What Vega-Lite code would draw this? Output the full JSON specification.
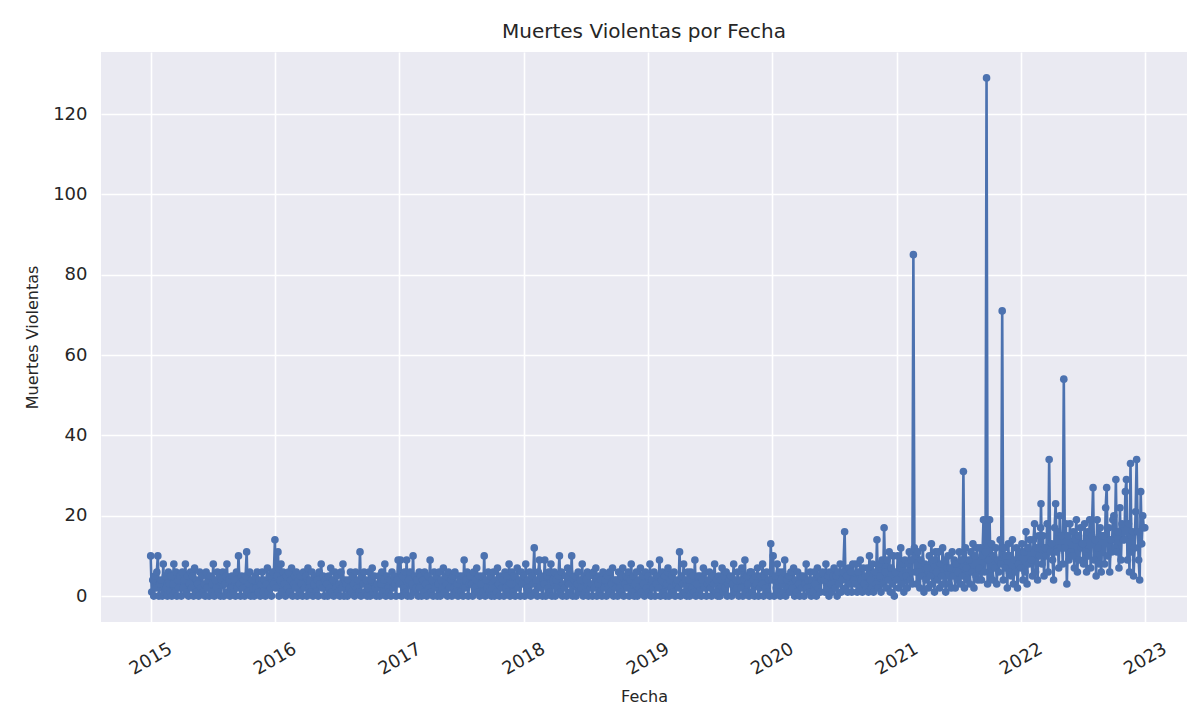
{
"$schema": "https://vega.github.io/schema/vega-lite/v6.json",
"autosize": {"type": "none"},
"padding": {"left": 101, "top": 52, "right": 0, "bottom": 90},
"width": 1086,
"height": 570,
"background": "white",
"title": {"text": "Muertes Violentas por Fecha", "font": "DejaVu Sans", "fontSize": 20, "fontWeight": "normal", "color": "#262626", "offset": 10},
"config": {
  "view": {"fill": "#EAEAF2", "stroke": null},
  "axis": {"domain": false, "ticks": false, "tickSize": 0, "grid": true, "gridColor": "white", "gridWidth": 1.6, "labelFont": "DejaVu Sans", "labelFontSize": 18, "labelColor": "#262626", "titleFont": "DejaVu Sans", "titleFontSize": 16, "titleFontWeight": "normal", "titleColor": "#262626"}
},
"data": {"values": [
{"fecha":"2015-01-01","muertes":10},{"fecha":"2015-01-04","muertes":1},{"fecha":"2015-01-07","muertes":4},{"fecha":"2015-01-10","muertes":0},{"fecha":"2015-01-13","muertes":5},{"fecha":"2015-01-16","muertes":2},{"fecha":"2015-01-19","muertes":6},{"fecha":"2015-01-22","muertes":10},{"fecha":"2015-01-25","muertes":0},{"fecha":"2015-01-28","muertes":3},
{"fecha":"2015-02-01","muertes":4},{"fecha":"2015-02-04","muertes":0},{"fecha":"2015-02-07","muertes":8},{"fecha":"2015-02-10","muertes":1},{"fecha":"2015-02-13","muertes":5},{"fecha":"2015-02-16","muertes":2},{"fecha":"2015-02-19","muertes":0},{"fecha":"2015-02-22","muertes":6},{"fecha":"2015-02-25","muertes":3},{"fecha":"2015-02-28","muertes":1},
{"fecha":"2015-03-01","muertes":5},{"fecha":"2015-03-04","muertes":0},{"fecha":"2015-03-07","muertes":3},{"fecha":"2015-03-10","muertes":8},{"fecha":"2015-03-13","muertes":1},{"fecha":"2015-03-16","muertes":6},{"fecha":"2015-03-19","muertes":0},{"fecha":"2015-03-22","muertes":4},{"fecha":"2015-03-25","muertes":2},{"fecha":"2015-03-28","muertes":5},
{"fecha":"2015-04-01","muertes":0},{"fecha":"2015-04-04","muertes":6},{"fecha":"2015-04-07","muertes":2},{"fecha":"2015-04-10","muertes":4},{"fecha":"2015-04-13","muertes":8},{"fecha":"2015-04-16","muertes":1},{"fecha":"2015-04-19","muertes":5},{"fecha":"2015-04-22","muertes":0},{"fecha":"2015-04-25","muertes":3},{"fecha":"2015-04-28","muertes":6},
{"fecha":"2015-05-01","muertes":2},{"fecha":"2015-05-04","muertes":5},{"fecha":"2015-05-07","muertes":0},{"fecha":"2015-05-10","muertes":7},{"fecha":"2015-05-13","muertes":1},{"fecha":"2015-05-16","muertes":4},{"fecha":"2015-05-19","muertes":3},{"fecha":"2015-05-22","muertes":0},{"fecha":"2015-05-25","muertes":6},{"fecha":"2015-05-28","muertes":2},
{"fecha":"2015-06-01","muertes":5},{"fecha":"2015-06-04","muertes":1},{"fecha":"2015-06-07","muertes":3},{"fecha":"2015-06-10","muertes":0},{"fecha":"2015-06-13","muertes":6},{"fecha":"2015-06-16","muertes":2},{"fecha":"2015-06-19","muertes":4},{"fecha":"2015-06-22","muertes":0},{"fecha":"2015-06-25","muertes":5},{"fecha":"2015-06-28","muertes":1},
{"fecha":"2015-07-01","muertes":3},{"fecha":"2015-07-04","muertes":8},{"fecha":"2015-07-07","muertes":0},{"fecha":"2015-07-10","muertes":4},{"fecha":"2015-07-13","muertes":2},{"fecha":"2015-07-16","muertes":6},{"fecha":"2015-07-19","muertes":1},{"fecha":"2015-07-22","muertes":5},{"fecha":"2015-07-25","muertes":0},{"fecha":"2015-07-28","muertes":4},
{"fecha":"2015-08-01","muertes":6},{"fecha":"2015-08-04","muertes":0},{"fecha":"2015-08-07","muertes":3},{"fecha":"2015-08-10","muertes":5},{"fecha":"2015-08-13","muertes":8},{"fecha":"2015-08-16","muertes":1},{"fecha":"2015-08-19","muertes":4},{"fecha":"2015-08-22","muertes":0},{"fecha":"2015-08-25","muertes":2},{"fecha":"2015-08-28","muertes":5},
{"fecha":"2015-09-01","muertes":1},{"fecha":"2015-09-04","muertes":4},{"fecha":"2015-09-07","muertes":0},{"fecha":"2015-09-10","muertes":6},{"fecha":"2015-09-13","muertes":2},{"fecha":"2015-09-16","muertes":10},{"fecha":"2015-09-19","muertes":3},{"fecha":"2015-09-22","muertes":0},{"fecha":"2015-09-25","muertes":5},{"fecha":"2015-09-28","muertes":2},
{"fecha":"2015-10-01","muertes":4},{"fecha":"2015-10-04","muertes":0},{"fecha":"2015-10-07","muertes":5},{"fecha":"2015-10-10","muertes":11},{"fecha":"2015-10-13","muertes":1},{"fecha":"2015-10-16","muertes":3},{"fecha":"2015-10-19","muertes":6},{"fecha":"2015-10-22","muertes":0},{"fecha":"2015-10-25","muertes":4},{"fecha":"2015-10-28","muertes":2},
{"fecha":"2015-11-01","muertes":0},{"fecha":"2015-11-04","muertes":5},{"fecha":"2015-11-07","muertes":2},{"fecha":"2015-11-10","muertes":6},{"fecha":"2015-11-13","muertes":1},{"fecha":"2015-11-16","muertes":4},{"fecha":"2015-11-19","muertes":0},{"fecha":"2015-11-22","muertes":3},{"fecha":"2015-11-25","muertes":6},{"fecha":"2015-11-28","muertes":1},
{"fecha":"2015-12-01","muertes":4},{"fecha":"2015-12-04","muertes":0},{"fecha":"2015-12-07","muertes":3},{"fecha":"2015-12-10","muertes":7},{"fecha":"2015-12-13","muertes":1},{"fecha":"2015-12-16","muertes":5},{"fecha":"2015-12-19","muertes":2},{"fecha":"2015-12-22","muertes":0},{"fecha":"2015-12-25","muertes":6},{"fecha":"2015-12-28","muertes":3},
{"fecha":"2016-01-01","muertes":14},{"fecha":"2016-01-04","muertes":2},{"fecha":"2016-01-07","muertes":5},{"fecha":"2016-01-10","muertes":11},{"fecha":"2016-01-13","muertes":0},{"fecha":"2016-01-16","muertes":4},{"fecha":"2016-01-19","muertes":8},{"fecha":"2016-01-22","muertes":1},{"fecha":"2016-01-25","muertes":6},{"fecha":"2016-01-28","muertes":3},
{"fecha":"2016-02-01","muertes":0},{"fecha":"2016-02-04","muertes":5},{"fecha":"2016-02-07","muertes":2},{"fecha":"2016-02-10","muertes":6},{"fecha":"2016-02-13","muertes":1},{"fecha":"2016-02-16","muertes":4},{"fecha":"2016-02-19","muertes":7},{"fecha":"2016-02-22","muertes":0},{"fecha":"2016-02-25","muertes":3},{"fecha":"2016-02-28","muertes":5},
{"fecha":"2016-03-01","muertes":2},{"fecha":"2016-03-04","muertes":6},{"fecha":"2016-03-07","muertes":0},{"fecha":"2016-03-10","muertes":4},{"fecha":"2016-03-13","muertes":1},{"fecha":"2016-03-16","muertes":5},{"fecha":"2016-03-19","muertes":3},{"fecha":"2016-03-22","muertes":0},{"fecha":"2016-03-25","muertes":6},{"fecha":"2016-03-28","muertes":2},
{"fecha":"2016-04-01","muertes":5},{"fecha":"2016-04-04","muertes":0},{"fecha":"2016-04-07","muertes":7},{"fecha":"2016-04-10","muertes":2},{"fecha":"2016-04-13","muertes":4},{"fecha":"2016-04-16","muertes":1},{"fecha":"2016-04-19","muertes":6},{"fecha":"2016-04-22","muertes":0},{"fecha":"2016-04-25","muertes":3},{"fecha":"2016-04-28","muertes":5},
{"fecha":"2016-05-01","muertes":1},{"fecha":"2016-05-04","muertes":4},{"fecha":"2016-05-07","muertes":0},{"fecha":"2016-05-10","muertes":6},{"fecha":"2016-05-13","muertes":3},{"fecha":"2016-05-16","muertes":8},{"fecha":"2016-05-19","muertes":2},{"fecha":"2016-05-22","muertes":5},{"fecha":"2016-05-25","muertes":0},{"fecha":"2016-05-28","muertes":4},
{"fecha":"2016-06-01","muertes":3},{"fecha":"2016-06-04","muertes":0},{"fecha":"2016-06-07","muertes":5},{"fecha":"2016-06-10","muertes":2},{"fecha":"2016-06-13","muertes":7},{"fecha":"2016-06-16","muertes":1},{"fecha":"2016-06-19","muertes":4},{"fecha":"2016-06-22","muertes":0},{"fecha":"2016-06-25","muertes":6},{"fecha":"2016-06-28","muertes":2},
{"fecha":"2016-07-01","muertes":5},{"fecha":"2016-07-04","muertes":1},{"fecha":"2016-07-07","muertes":3},{"fecha":"2016-07-10","muertes":0},{"fecha":"2016-07-13","muertes":6},{"fecha":"2016-07-16","muertes":2},{"fecha":"2016-07-19","muertes":8},{"fecha":"2016-07-22","muertes":0},{"fecha":"2016-07-25","muertes":4},{"fecha":"2016-07-28","muertes":3},
{"fecha":"2016-08-01","muertes":0},{"fecha":"2016-08-04","muertes":4},{"fecha":"2016-08-07","muertes":2},{"fecha":"2016-08-10","muertes":6},{"fecha":"2016-08-13","muertes":1},{"fecha":"2016-08-16","muertes":5},{"fecha":"2016-08-19","muertes":3},{"fecha":"2016-08-22","muertes":0},{"fecha":"2016-08-25","muertes":6},{"fecha":"2016-08-28","muertes":2},
{"fecha":"2016-09-01","muertes":4},{"fecha":"2016-09-04","muertes":1},{"fecha":"2016-09-07","muertes":11},{"fecha":"2016-09-10","muertes":0},{"fecha":"2016-09-13","muertes":5},{"fecha":"2016-09-16","muertes":3},{"fecha":"2016-09-19","muertes":6},{"fecha":"2016-09-22","muertes":1},{"fecha":"2016-09-25","muertes":4},{"fecha":"2016-09-28","muertes":0},
{"fecha":"2016-10-01","muertes":2},{"fecha":"2016-10-04","muertes":6},{"fecha":"2016-10-07","muertes":0},{"fecha":"2016-10-10","muertes":4},{"fecha":"2016-10-13","muertes":7},{"fecha":"2016-10-16","muertes":1},{"fecha":"2016-10-19","muertes":5},{"fecha":"2016-10-22","muertes":2},{"fecha":"2016-10-25","muertes":0},{"fecha":"2016-10-28","muertes":3},
{"fecha":"2016-11-01","muertes":5},{"fecha":"2016-11-04","muertes":0},{"fecha":"2016-11-07","muertes":3},{"fecha":"2016-11-10","muertes":6},{"fecha":"2016-11-13","muertes":1},{"fecha":"2016-11-16","muertes":4},{"fecha":"2016-11-19","muertes":8},{"fecha":"2016-11-22","muertes":0},{"fecha":"2016-11-25","muertes":5},{"fecha":"2016-11-28","muertes":2},
{"fecha":"2016-12-01","muertes":1},{"fecha":"2016-12-04","muertes":4},{"fecha":"2016-12-07","muertes":0},{"fecha":"2016-12-10","muertes":6},{"fecha":"2016-12-13","muertes":2},{"fecha":"2016-12-16","muertes":5},{"fecha":"2016-12-19","muertes":3},{"fecha":"2016-12-22","muertes":0},{"fecha":"2016-12-25","muertes":4},{"fecha":"2016-12-28","muertes":9},
{"fecha":"2017-01-01","muertes":3},{"fecha":"2017-01-04","muertes":9},{"fecha":"2017-01-07","muertes":0},{"fecha":"2017-01-10","muertes":5},{"fecha":"2017-01-13","muertes":2},{"fecha":"2017-01-16","muertes":6},{"fecha":"2017-01-19","muertes":1},{"fecha":"2017-01-22","muertes":9},{"fecha":"2017-01-25","muertes":0},{"fecha":"2017-01-28","muertes":4},
{"fecha":"2017-02-01","muertes":6},{"fecha":"2017-02-04","muertes":0},{"fecha":"2017-02-07","muertes":3},{"fecha":"2017-02-10","muertes":10},{"fecha":"2017-02-13","muertes":1},{"fecha":"2017-02-16","muertes":5},{"fecha":"2017-02-19","muertes":2},{"fecha":"2017-02-22","muertes":4},{"fecha":"2017-02-25","muertes":0},{"fecha":"2017-02-28","muertes":6},
{"fecha":"2017-03-01","muertes":2},{"fecha":"2017-03-04","muertes":5},{"fecha":"2017-03-07","muertes":0},{"fecha":"2017-03-10","muertes":4},{"fecha":"2017-03-13","muertes":1},{"fecha":"2017-03-16","muertes":6},{"fecha":"2017-03-19","muertes":3},{"fecha":"2017-03-22","muertes":0},{"fecha":"2017-03-25","muertes":5},{"fecha":"2017-03-28","muertes":2},
{"fecha":"2017-04-01","muertes":9},{"fecha":"2017-04-04","muertes":1},{"fecha":"2017-04-07","muertes":4},{"fecha":"2017-04-10","muertes":0},{"fecha":"2017-04-13","muertes":6},{"fecha":"2017-04-16","muertes":2},{"fecha":"2017-04-19","muertes":5},{"fecha":"2017-04-22","muertes":0},{"fecha":"2017-04-25","muertes":3},{"fecha":"2017-04-28","muertes":6},
{"fecha":"2017-05-01","muertes":0},{"fecha":"2017-05-04","muertes":4},{"fecha":"2017-05-07","muertes":2},{"fecha":"2017-05-10","muertes":7},{"fecha":"2017-05-13","muertes":1},{"fecha":"2017-05-16","muertes":5},{"fecha":"2017-05-19","muertes":3},{"fecha":"2017-05-22","muertes":0},{"fecha":"2017-05-25","muertes":6},{"fecha":"2017-05-28","muertes":2},
{"fecha":"2017-06-01","muertes":4},{"fecha":"2017-06-04","muertes":0},{"fecha":"2017-06-07","muertes":5},{"fecha":"2017-06-10","muertes":2},{"fecha":"2017-06-13","muertes":6},{"fecha":"2017-06-16","muertes":1},{"fecha":"2017-06-19","muertes":3},{"fecha":"2017-06-22","muertes":0},{"fecha":"2017-06-25","muertes":5},{"fecha":"2017-06-28","muertes":4},
{"fecha":"2017-07-01","muertes":1},{"fecha":"2017-07-04","muertes":5},{"fecha":"2017-07-07","muertes":0},{"fecha":"2017-07-10","muertes":9},{"fecha":"2017-07-13","muertes":2},{"fecha":"2017-07-16","muertes":4},{"fecha":"2017-07-19","muertes":6},{"fecha":"2017-07-22","muertes":0},{"fecha":"2017-07-25","muertes":3},{"fecha":"2017-07-28","muertes":5},
{"fecha":"2017-08-01","muertes":3},{"fecha":"2017-08-04","muertes":0},{"fecha":"2017-08-07","muertes":6},{"fecha":"2017-08-10","muertes":2},{"fecha":"2017-08-13","muertes":4},{"fecha":"2017-08-16","muertes":7},{"fecha":"2017-08-19","muertes":1},{"fecha":"2017-08-22","muertes":5},{"fecha":"2017-08-25","muertes":0},{"fecha":"2017-08-28","muertes":3},
{"fecha":"2017-09-01","muertes":5},{"fecha":"2017-09-04","muertes":1},{"fecha":"2017-09-07","muertes":10},{"fecha":"2017-09-10","muertes":0},{"fecha":"2017-09-13","muertes":4},{"fecha":"2017-09-16","muertes":2},{"fecha":"2017-09-19","muertes":6},{"fecha":"2017-09-22","muertes":1},{"fecha":"2017-09-25","muertes":5},{"fecha":"2017-09-28","muertes":0},
{"fecha":"2017-10-01","muertes":2},{"fecha":"2017-10-04","muertes":6},{"fecha":"2017-10-07","muertes":0},{"fecha":"2017-10-10","muertes":4},{"fecha":"2017-10-13","muertes":1},{"fecha":"2017-10-16","muertes":7},{"fecha":"2017-10-19","muertes":3},{"fecha":"2017-10-22","muertes":0},{"fecha":"2017-10-25","muertes":5},{"fecha":"2017-10-28","muertes":2},
{"fecha":"2017-11-01","muertes":4},{"fecha":"2017-11-04","muertes":0},{"fecha":"2017-11-07","muertes":6},{"fecha":"2017-11-10","muertes":2},{"fecha":"2017-11-13","muertes":5},{"fecha":"2017-11-16","muertes":1},{"fecha":"2017-11-19","muertes":8},{"fecha":"2017-11-22","muertes":0},{"fecha":"2017-11-25","muertes":3},{"fecha":"2017-11-28","muertes":6},
{"fecha":"2017-12-01","muertes":1},{"fecha":"2017-12-04","muertes":5},{"fecha":"2017-12-07","muertes":0},{"fecha":"2017-12-10","muertes":3},{"fecha":"2017-12-13","muertes":7},{"fecha":"2017-12-16","muertes":2},{"fecha":"2017-12-19","muertes":4},{"fecha":"2017-12-22","muertes":0},{"fecha":"2017-12-25","muertes":6},{"fecha":"2017-12-28","muertes":3},
{"fecha":"2018-01-01","muertes":5},{"fecha":"2018-01-04","muertes":0},{"fecha":"2018-01-07","muertes":8},{"fecha":"2018-01-10","muertes":2},{"fecha":"2018-01-13","muertes":4},{"fecha":"2018-01-16","muertes":1},{"fecha":"2018-01-19","muertes":6},{"fecha":"2018-01-22","muertes":0},{"fecha":"2018-01-25","muertes":5},{"fecha":"2018-01-28","muertes":3},
{"fecha":"2018-02-01","muertes":12},{"fecha":"2018-02-04","muertes":1},{"fecha":"2018-02-07","muertes":4},{"fecha":"2018-02-10","muertes":0},{"fecha":"2018-02-13","muertes":6},{"fecha":"2018-02-16","muertes":9},{"fecha":"2018-02-19","muertes":2},{"fecha":"2018-02-22","muertes":5},{"fecha":"2018-02-25","muertes":0},{"fecha":"2018-02-28","muertes":4},
{"fecha":"2018-03-01","muertes":3},{"fecha":"2018-03-04","muertes":9},{"fecha":"2018-03-07","muertes":0},{"fecha":"2018-03-10","muertes":5},{"fecha":"2018-03-13","muertes":2},{"fecha":"2018-03-16","muertes":6},{"fecha":"2018-03-19","muertes":1},{"fecha":"2018-03-22","muertes":8},{"fecha":"2018-03-25","muertes":0},{"fecha":"2018-03-28","muertes":4},
{"fecha":"2018-04-01","muertes":6},{"fecha":"2018-04-04","muertes":0},{"fecha":"2018-04-07","muertes":4},{"fecha":"2018-04-10","muertes":2},{"fecha":"2018-04-13","muertes":5},{"fecha":"2018-04-16","muertes":10},{"fecha":"2018-04-19","muertes":1},{"fecha":"2018-04-22","muertes":6},{"fecha":"2018-04-25","muertes":0},{"fecha":"2018-04-28","muertes":3},
{"fecha":"2018-05-01","muertes":2},{"fecha":"2018-05-04","muertes":5},{"fecha":"2018-05-07","muertes":0},{"fecha":"2018-05-10","muertes":7},{"fecha":"2018-05-13","muertes":3},{"fecha":"2018-05-16","muertes":6},{"fecha":"2018-05-19","muertes":1},{"fecha":"2018-05-22","muertes":10},{"fecha":"2018-05-25","muertes":0},{"fecha":"2018-05-28","muertes":4},
{"fecha":"2018-06-01","muertes":5},{"fecha":"2018-06-04","muertes":0},{"fecha":"2018-06-07","muertes":3},{"fecha":"2018-06-10","muertes":6},{"fecha":"2018-06-13","muertes":1},{"fecha":"2018-06-16","muertes":4},{"fecha":"2018-06-19","muertes":2},{"fecha":"2018-06-22","muertes":8},{"fecha":"2018-06-25","muertes":0},{"fecha":"2018-06-28","muertes":5},
{"fecha":"2018-07-01","muertes":1},{"fecha":"2018-07-04","muertes":4},{"fecha":"2018-07-07","muertes":6},{"fecha":"2018-07-10","muertes":0},{"fecha":"2018-07-13","muertes":5},{"fecha":"2018-07-16","muertes":2},{"fecha":"2018-07-19","muertes":3},{"fecha":"2018-07-22","muertes":0},{"fecha":"2018-07-25","muertes":6},{"fecha":"2018-07-28","muertes":2},
{"fecha":"2018-08-01","muertes":7},{"fecha":"2018-08-04","muertes":0},{"fecha":"2018-08-07","muertes":3},{"fecha":"2018-08-10","muertes":5},{"fecha":"2018-08-13","muertes":1},{"fecha":"2018-08-16","muertes":4},{"fecha":"2018-08-19","muertes":0},{"fecha":"2018-08-22","muertes":6},{"fecha":"2018-08-25","muertes":2},{"fecha":"2018-08-28","muertes":4},
{"fecha":"2018-09-01","muertes":0},{"fecha":"2018-09-04","muertes":5},{"fecha":"2018-09-07","muertes":2},{"fecha":"2018-09-10","muertes":6},{"fecha":"2018-09-13","muertes":1},{"fecha":"2018-09-16","muertes":3},{"fecha":"2018-09-19","muertes":7},{"fecha":"2018-09-22","muertes":0},{"fecha":"2018-09-25","muertes":4},{"fecha":"2018-09-28","muertes":2},
{"fecha":"2018-10-01","muertes":4},{"fecha":"2018-10-04","muertes":0},{"fecha":"2018-10-07","muertes":6},{"fecha":"2018-10-10","muertes":2},{"fecha":"2018-10-13","muertes":5},{"fecha":"2018-10-16","muertes":1},{"fecha":"2018-10-19","muertes":7},{"fecha":"2018-10-22","muertes":0},{"fecha":"2018-10-25","muertes":3},{"fecha":"2018-10-28","muertes":5},
{"fecha":"2018-11-01","muertes":2},{"fecha":"2018-11-04","muertes":6},{"fecha":"2018-11-07","muertes":0},{"fecha":"2018-11-10","muertes":4},{"fecha":"2018-11-13","muertes":8},{"fecha":"2018-11-16","muertes":1},{"fecha":"2018-11-19","muertes":5},{"fecha":"2018-11-22","muertes":0},{"fecha":"2018-11-25","muertes":3},{"fecha":"2018-11-28","muertes":6},
{"fecha":"2018-12-01","muertes":0},{"fecha":"2018-12-04","muertes":4},{"fecha":"2018-12-07","muertes":2},{"fecha":"2018-12-10","muertes":7},{"fecha":"2018-12-13","muertes":1},{"fecha":"2018-12-16","muertes":5},{"fecha":"2018-12-19","muertes":3},{"fecha":"2018-12-22","muertes":0},{"fecha":"2018-12-25","muertes":6},{"fecha":"2018-12-28","muertes":2},
{"fecha":"2019-01-01","muertes":5},{"fecha":"2019-01-04","muertes":1},{"fecha":"2019-01-07","muertes":8},{"fecha":"2019-01-10","muertes":0},{"fecha":"2019-01-13","muertes":4},{"fecha":"2019-01-16","muertes":2},{"fecha":"2019-01-19","muertes":6},{"fecha":"2019-01-22","muertes":0},{"fecha":"2019-01-25","muertes":3},{"fecha":"2019-01-28","muertes":5},
{"fecha":"2019-02-01","muertes":2},{"fecha":"2019-02-04","muertes":9},{"fecha":"2019-02-07","muertes":0},{"fecha":"2019-02-10","muertes":4},{"fecha":"2019-02-13","muertes":6},{"fecha":"2019-02-16","muertes":1},{"fecha":"2019-02-19","muertes":5},{"fecha":"2019-02-22","muertes":0},{"fecha":"2019-02-25","muertes":3},{"fecha":"2019-02-28","muertes":6},
{"fecha":"2019-03-01","muertes":7},{"fecha":"2019-03-04","muertes":0},{"fecha":"2019-03-07","muertes":4},{"fecha":"2019-03-10","muertes":2},{"fecha":"2019-03-13","muertes":5},{"fecha":"2019-03-16","muertes":1},{"fecha":"2019-03-19","muertes":6},{"fecha":"2019-03-22","muertes":0},{"fecha":"2019-03-25","muertes":3},{"fecha":"2019-03-28","muertes":4},
{"fecha":"2019-04-01","muertes":2},{"fecha":"2019-04-04","muertes":11},{"fecha":"2019-04-07","muertes":0},{"fecha":"2019-04-10","muertes":5},{"fecha":"2019-04-13","muertes":3},{"fecha":"2019-04-16","muertes":8},{"fecha":"2019-04-19","muertes":1},{"fecha":"2019-04-22","muertes":4},{"fecha":"2019-04-25","muertes":0},{"fecha":"2019-04-28","muertes":6},
{"fecha":"2019-05-01","muertes":4},{"fecha":"2019-05-04","muertes":0},{"fecha":"2019-05-07","muertes":6},{"fecha":"2019-05-10","muertes":2},{"fecha":"2019-05-13","muertes":5},{"fecha":"2019-05-16","muertes":1},{"fecha":"2019-05-19","muertes":9},{"fecha":"2019-05-22","muertes":0},{"fecha":"2019-05-25","muertes":3},{"fecha":"2019-05-28","muertes":5},
{"fecha":"2019-06-01","muertes":1},{"fecha":"2019-06-04","muertes":5},{"fecha":"2019-06-07","muertes":0},{"fecha":"2019-06-10","muertes":4},{"fecha":"2019-06-13","muertes":7},{"fecha":"2019-06-16","muertes":2},{"fecha":"2019-06-19","muertes":6},{"fecha":"2019-06-22","muertes":0},{"fecha":"2019-06-25","muertes":3},{"fecha":"2019-06-28","muertes":4},
{"fecha":"2019-07-01","muertes":6},{"fecha":"2019-07-04","muertes":2},{"fecha":"2019-07-07","muertes":0},{"fecha":"2019-07-10","muertes":5},{"fecha":"2019-07-13","muertes":3},{"fecha":"2019-07-16","muertes":8},{"fecha":"2019-07-19","muertes":1},{"fecha":"2019-07-22","muertes":4},{"fecha":"2019-07-25","muertes":0},{"fecha":"2019-07-28","muertes":5},
{"fecha":"2019-08-01","muertes":0},{"fecha":"2019-08-04","muertes":4},{"fecha":"2019-08-07","muertes":7},{"fecha":"2019-08-10","muertes":1},{"fecha":"2019-08-13","muertes":5},{"fecha":"2019-08-16","muertes":2},{"fecha":"2019-08-19","muertes":6},{"fecha":"2019-08-22","muertes":0},{"fecha":"2019-08-25","muertes":3},{"fecha":"2019-08-28","muertes":4},
{"fecha":"2019-09-01","muertes":5},{"fecha":"2019-09-04","muertes":0},{"fecha":"2019-09-07","muertes":3},{"fecha":"2019-09-10","muertes":8},{"fecha":"2019-09-13","muertes":1},{"fecha":"2019-09-16","muertes":4},{"fecha":"2019-09-19","muertes":2},{"fecha":"2019-09-22","muertes":6},{"fecha":"2019-09-25","muertes":0},{"fecha":"2019-09-28","muertes":4},
{"fecha":"2019-10-01","muertes":2},{"fecha":"2019-10-04","muertes":7},{"fecha":"2019-10-07","muertes":0},{"fecha":"2019-10-10","muertes":4},{"fecha":"2019-10-13","muertes":9},{"fecha":"2019-10-16","muertes":1},{"fecha":"2019-10-19","muertes":5},{"fecha":"2019-10-22","muertes":3},{"fecha":"2019-10-25","muertes":0},{"fecha":"2019-10-28","muertes":6},
{"fecha":"2019-11-01","muertes":6},{"fecha":"2019-11-04","muertes":1},{"fecha":"2019-11-07","muertes":4},{"fecha":"2019-11-10","muertes":0},{"fecha":"2019-11-13","muertes":5},{"fecha":"2019-11-16","muertes":3},{"fecha":"2019-11-19","muertes":7},{"fecha":"2019-11-22","muertes":0},{"fecha":"2019-11-25","muertes":2},{"fecha":"2019-11-28","muertes":5},
{"fecha":"2019-12-01","muertes":3},{"fecha":"2019-12-04","muertes":8},{"fecha":"2019-12-07","muertes":0},{"fecha":"2019-12-10","muertes":5},{"fecha":"2019-12-13","muertes":2},{"fecha":"2019-12-16","muertes":6},{"fecha":"2019-12-19","muertes":1},{"fecha":"2019-12-22","muertes":4},{"fecha":"2019-12-25","muertes":0},{"fecha":"2019-12-28","muertes":13},
{"fecha":"2020-01-01","muertes":4},{"fecha":"2020-01-04","muertes":10},{"fecha":"2020-01-07","muertes":0},{"fecha":"2020-01-10","muertes":5},{"fecha":"2020-01-13","muertes":2},{"fecha":"2020-01-16","muertes":8},{"fecha":"2020-01-19","muertes":1},{"fecha":"2020-01-22","muertes":6},{"fecha":"2020-01-25","muertes":0},{"fecha":"2020-01-28","muertes":4},
{"fecha":"2020-02-01","muertes":6},{"fecha":"2020-02-04","muertes":1},{"fecha":"2020-02-07","muertes":9},{"fecha":"2020-02-10","muertes":0},{"fecha":"2020-02-13","muertes":4},{"fecha":"2020-02-16","muertes":2},{"fecha":"2020-02-19","muertes":5},{"fecha":"2020-02-22","muertes":1},{"fecha":"2020-02-25","muertes":6},{"fecha":"2020-02-28","muertes":3},
{"fecha":"2020-03-01","muertes":2},{"fecha":"2020-03-04","muertes":7},{"fecha":"2020-03-07","muertes":0},{"fecha":"2020-03-10","muertes":4},{"fecha":"2020-03-13","muertes":1},{"fecha":"2020-03-16","muertes":6},{"fecha":"2020-03-19","muertes":3},{"fecha":"2020-03-22","muertes":0},{"fecha":"2020-03-25","muertes":5},{"fecha":"2020-03-28","muertes":2},
{"fecha":"2020-04-01","muertes":5},{"fecha":"2020-04-04","muertes":0},{"fecha":"2020-04-07","muertes":3},{"fecha":"2020-04-10","muertes":8},{"fecha":"2020-04-13","muertes":2},{"fecha":"2020-04-16","muertes":4},{"fecha":"2020-04-19","muertes":1},{"fecha":"2020-04-22","muertes":6},{"fecha":"2020-04-25","muertes":0},{"fecha":"2020-04-28","muertes":4},
{"fecha":"2020-05-01","muertes":1},{"fecha":"2020-05-04","muertes":6},{"fecha":"2020-05-07","muertes":3},{"fecha":"2020-05-10","muertes":0},{"fecha":"2020-05-13","muertes":7},{"fecha":"2020-05-16","muertes":2},{"fecha":"2020-05-19","muertes":5},{"fecha":"2020-05-22","muertes":1},{"fecha":"2020-05-25","muertes":4},{"fecha":"2020-05-28","muertes":6},
{"fecha":"2020-06-01","muertes":4},{"fecha":"2020-06-04","muertes":1},{"fecha":"2020-06-07","muertes":8},{"fecha":"2020-06-10","muertes":2},{"fecha":"2020-06-13","muertes":5},{"fecha":"2020-06-16","muertes":0},{"fecha":"2020-06-19","muertes":6},{"fecha":"2020-06-22","muertes":3},{"fecha":"2020-06-25","muertes":1},{"fecha":"2020-06-28","muertes":5},
{"fecha":"2020-07-01","muertes":7},{"fecha":"2020-07-04","muertes":2},{"fecha":"2020-07-07","muertes":5},{"fecha":"2020-07-10","muertes":0},{"fecha":"2020-07-13","muertes":6},{"fecha":"2020-07-16","muertes":3},{"fecha":"2020-07-19","muertes":8},{"fecha":"2020-07-22","muertes":1},{"fecha":"2020-07-25","muertes":4},{"fecha":"2020-07-28","muertes":6},
{"fecha":"2020-08-01","muertes":16},{"fecha":"2020-08-04","muertes":2},{"fecha":"2020-08-07","muertes":5},{"fecha":"2020-08-10","muertes":1},{"fecha":"2020-08-13","muertes":7},{"fecha":"2020-08-16","muertes":3},{"fecha":"2020-08-19","muertes":6},{"fecha":"2020-08-22","muertes":1},{"fecha":"2020-08-25","muertes":8},{"fecha":"2020-08-28","muertes":4},
{"fecha":"2020-09-01","muertes":3},{"fecha":"2020-09-04","muertes":8},{"fecha":"2020-09-07","muertes":1},{"fecha":"2020-09-10","muertes":6},{"fecha":"2020-09-13","muertes":2},{"fecha":"2020-09-16","muertes":9},{"fecha":"2020-09-19","muertes":4},{"fecha":"2020-09-22","muertes":1},{"fecha":"2020-09-25","muertes":7},{"fecha":"2020-09-28","muertes":3},
{"fecha":"2020-10-01","muertes":5},{"fecha":"2020-10-04","muertes":2},{"fecha":"2020-10-07","muertes":7},{"fecha":"2020-10-10","muertes":1},{"fecha":"2020-10-13","muertes":10},{"fecha":"2020-10-16","muertes":4},{"fecha":"2020-10-19","muertes":2},{"fecha":"2020-10-22","muertes":8},{"fecha":"2020-10-25","muertes":1},{"fecha":"2020-10-28","muertes":6},
{"fecha":"2020-11-01","muertes":3},{"fecha":"2020-11-04","muertes":14},{"fecha":"2020-11-07","muertes":2},{"fecha":"2020-11-10","muertes":8},{"fecha":"2020-11-13","muertes":5},{"fecha":"2020-11-16","muertes":1},{"fecha":"2020-11-19","muertes":9},{"fecha":"2020-11-22","muertes":3},{"fecha":"2020-11-25","muertes":17},{"fecha":"2020-11-28","muertes":6},
{"fecha":"2020-12-01","muertes":2},{"fecha":"2020-12-04","muertes":9},{"fecha":"2020-12-07","muertes":4},{"fecha":"2020-12-10","muertes":11},{"fecha":"2020-12-13","muertes":1},{"fecha":"2020-12-16","muertes":7},{"fecha":"2020-12-19","muertes":3},{"fecha":"2020-12-22","muertes":10},{"fecha":"2020-12-25","muertes":0},{"fecha":"2020-12-28","muertes":6},
{"fecha":"2021-01-01","muertes":4},{"fecha":"2021-01-04","muertes":10},{"fecha":"2021-01-07","muertes":2},{"fecha":"2021-01-10","muertes":7},{"fecha":"2021-01-13","muertes":12},{"fecha":"2021-01-16","muertes":3},{"fecha":"2021-01-19","muertes":8},{"fecha":"2021-01-22","muertes":1},{"fecha":"2021-01-25","muertes":9},{"fecha":"2021-01-28","muertes":5},
{"fecha":"2021-02-01","muertes":2},{"fecha":"2021-02-04","muertes":8},{"fecha":"2021-02-07","muertes":11},{"fecha":"2021-02-10","muertes":4},{"fecha":"2021-02-13","muertes":9},{"fecha":"2021-02-16","muertes":3},{"fecha":"2021-02-19","muertes":85},{"fecha":"2021-02-22","muertes":12},{"fecha":"2021-02-25","muertes":6},{"fecha":"2021-02-28","muertes":10},
{"fecha":"2021-03-01","muertes":3},{"fecha":"2021-03-04","muertes":11},{"fecha":"2021-03-07","muertes":6},{"fecha":"2021-03-10","muertes":2},{"fecha":"2021-03-13","muertes":9},{"fecha":"2021-03-16","muertes":5},{"fecha":"2021-03-19","muertes":12},{"fecha":"2021-03-22","muertes":1},{"fecha":"2021-03-25","muertes":8},{"fecha":"2021-03-28","muertes":4},
{"fecha":"2021-04-01","muertes":7},{"fecha":"2021-04-04","muertes":2},{"fecha":"2021-04-07","muertes":10},{"fecha":"2021-04-10","muertes":5},{"fecha":"2021-04-13","muertes":13},{"fecha":"2021-04-16","muertes":3},{"fecha":"2021-04-19","muertes":9},{"fecha":"2021-04-22","muertes":1},{"fecha":"2021-04-25","muertes":11},{"fecha":"2021-04-28","muertes":6},
{"fecha":"2021-05-01","muertes":4},{"fecha":"2021-05-04","muertes":11},{"fecha":"2021-05-07","muertes":2},{"fecha":"2021-05-10","muertes":8},{"fecha":"2021-05-13","muertes":5},{"fecha":"2021-05-16","muertes":12},{"fecha":"2021-05-19","muertes":3},{"fecha":"2021-05-22","muertes":9},{"fecha":"2021-05-25","muertes":1},{"fecha":"2021-05-28","muertes":7},
{"fecha":"2021-06-01","muertes":10},{"fecha":"2021-06-04","muertes":3},{"fecha":"2021-06-07","muertes":7},{"fecha":"2021-06-10","muertes":2},{"fecha":"2021-06-13","muertes":11},{"fecha":"2021-06-16","muertes":5},{"fecha":"2021-06-19","muertes":9},{"fecha":"2021-06-22","muertes":2},{"fecha":"2021-06-25","muertes":8},{"fecha":"2021-06-28","muertes":4},
{"fecha":"2021-07-01","muertes":6},{"fecha":"2021-07-04","muertes":11},{"fecha":"2021-07-07","muertes":3},{"fecha":"2021-07-10","muertes":9},{"fecha":"2021-07-13","muertes":5},{"fecha":"2021-07-16","muertes":31},{"fecha":"2021-07-19","muertes":2},{"fecha":"2021-07-22","muertes":12},{"fecha":"2021-07-25","muertes":7},{"fecha":"2021-07-28","muertes":4},
{"fecha":"2021-08-01","muertes":9},{"fecha":"2021-08-04","muertes":3},{"fecha":"2021-08-07","muertes":11},{"fecha":"2021-08-10","muertes":6},{"fecha":"2021-08-13","muertes":13},{"fecha":"2021-08-16","muertes":2},{"fecha":"2021-08-19","muertes":10},{"fecha":"2021-08-22","muertes":5},{"fecha":"2021-08-25","muertes":12},{"fecha":"2021-08-28","muertes":4},
{"fecha":"2021-09-01","muertes":7},{"fecha":"2021-09-04","muertes":12},{"fecha":"2021-09-07","muertes":4},{"fecha":"2021-09-10","muertes":10},{"fecha":"2021-09-13","muertes":19},{"fecha":"2021-09-16","muertes":6},{"fecha":"2021-09-19","muertes":11},{"fecha":"2021-09-22","muertes":129},{"fecha":"2021-09-25","muertes":3},{"fecha":"2021-09-28","muertes":9},
{"fecha":"2021-10-01","muertes":19},{"fecha":"2021-10-04","muertes":5},{"fecha":"2021-10-07","muertes":13},{"fecha":"2021-10-10","muertes":4},{"fecha":"2021-10-13","muertes":10},{"fecha":"2021-10-16","muertes":7},{"fecha":"2021-10-19","muertes":12},{"fecha":"2021-10-22","muertes":3},{"fecha":"2021-10-25","muertes":9},{"fecha":"2021-10-28","muertes":6},
{"fecha":"2021-11-01","muertes":14},{"fecha":"2021-11-04","muertes":8},{"fecha":"2021-11-07","muertes":71},{"fecha":"2021-11-10","muertes":4},{"fecha":"2021-11-13","muertes":12},{"fecha":"2021-11-16","muertes":7},{"fecha":"2021-11-19","muertes":10},{"fecha":"2021-11-22","muertes":2},{"fecha":"2021-11-25","muertes":13},{"fecha":"2021-11-28","muertes":6},
{"fecha":"2021-12-01","muertes":10},{"fecha":"2021-12-04","muertes":5},{"fecha":"2021-12-07","muertes":14},{"fecha":"2021-12-10","muertes":3},{"fecha":"2021-12-13","muertes":9},{"fecha":"2021-12-16","muertes":6},{"fecha":"2021-12-19","muertes":12},{"fecha":"2021-12-22","muertes":2},{"fecha":"2021-12-25","muertes":8},{"fecha":"2021-12-28","muertes":11},
{"fecha":"2022-01-01","muertes":7},{"fecha":"2022-01-04","muertes":13},{"fecha":"2022-01-07","muertes":4},{"fecha":"2022-01-10","muertes":11},{"fecha":"2022-01-13","muertes":6},{"fecha":"2022-01-16","muertes":16},{"fecha":"2022-01-19","muertes":3},{"fecha":"2022-01-22","muertes":12},{"fecha":"2022-01-25","muertes":8},{"fecha":"2022-01-28","muertes":14},
{"fecha":"2022-02-01","muertes":9},{"fecha":"2022-02-04","muertes":5},{"fecha":"2022-02-07","muertes":14},{"fecha":"2022-02-10","muertes":18},{"fecha":"2022-02-13","muertes":6},{"fecha":"2022-02-16","muertes":12},{"fecha":"2022-02-19","muertes":4},{"fecha":"2022-02-22","muertes":15},{"fecha":"2022-02-25","muertes":10},{"fecha":"2022-02-28","muertes":17},
{"fecha":"2022-03-01","muertes":23},{"fecha":"2022-03-04","muertes":8},{"fecha":"2022-03-07","muertes":15},{"fecha":"2022-03-10","muertes":5},{"fecha":"2022-03-13","muertes":12},{"fecha":"2022-03-16","muertes":10},{"fecha":"2022-03-19","muertes":18},{"fecha":"2022-03-22","muertes":6},{"fecha":"2022-03-25","muertes":34},{"fecha":"2022-03-28","muertes":11},
{"fecha":"2022-04-01","muertes":13},{"fecha":"2022-04-04","muertes":9},{"fecha":"2022-04-07","muertes":4},{"fecha":"2022-04-10","muertes":17},{"fecha":"2022-04-13","muertes":23},{"fecha":"2022-04-16","muertes":11},{"fecha":"2022-04-19","muertes":16},{"fecha":"2022-04-22","muertes":7},{"fecha":"2022-04-25","muertes":20},{"fecha":"2022-04-28","muertes":12},
{"fecha":"2022-05-01","muertes":15},{"fecha":"2022-05-04","muertes":8},{"fecha":"2022-05-07","muertes":54},{"fecha":"2022-05-10","muertes":12},{"fecha":"2022-05-13","muertes":18},{"fecha":"2022-05-16","muertes":3},{"fecha":"2022-05-19","muertes":15},{"fecha":"2022-05-22","muertes":9},{"fecha":"2022-05-25","muertes":18},{"fecha":"2022-05-28","muertes":11},
{"fecha":"2022-06-01","muertes":10},{"fecha":"2022-06-04","muertes":16},{"fecha":"2022-06-07","muertes":7},{"fecha":"2022-06-10","muertes":14},{"fecha":"2022-06-13","muertes":19},{"fecha":"2022-06-16","muertes":6},{"fecha":"2022-06-19","muertes":15},{"fecha":"2022-06-22","muertes":9},{"fecha":"2022-06-25","muertes":17},{"fecha":"2022-06-28","muertes":12},
{"fecha":"2022-07-01","muertes":13},{"fecha":"2022-07-04","muertes":8},{"fecha":"2022-07-07","muertes":18},{"fecha":"2022-07-10","muertes":11},{"fecha":"2022-07-13","muertes":6},{"fecha":"2022-07-16","muertes":16},{"fecha":"2022-07-19","muertes":10},{"fecha":"2022-07-22","muertes":19},{"fecha":"2022-07-25","muertes":7},{"fecha":"2022-07-28","muertes":15},
{"fecha":"2022-08-01","muertes":27},{"fecha":"2022-08-04","muertes":9},{"fecha":"2022-08-07","muertes":14},{"fecha":"2022-08-10","muertes":5},{"fecha":"2022-08-13","muertes":19},{"fecha":"2022-08-16","muertes":12},{"fecha":"2022-08-19","muertes":8},{"fecha":"2022-08-22","muertes":17},{"fecha":"2022-08-25","muertes":6},{"fecha":"2022-08-28","muertes":15},
{"fecha":"2022-09-01","muertes":15},{"fecha":"2022-09-04","muertes":8},{"fecha":"2022-09-07","muertes":22},{"fecha":"2022-09-10","muertes":27},{"fecha":"2022-09-13","muertes":10},{"fecha":"2022-09-16","muertes":17},{"fecha":"2022-09-19","muertes":6},{"fecha":"2022-09-22","muertes":14},{"fecha":"2022-09-25","muertes":11},{"fecha":"2022-09-28","muertes":19},
{"fecha":"2022-10-01","muertes":20},{"fecha":"2022-10-04","muertes":12},{"fecha":"2022-10-07","muertes":29},{"fecha":"2022-10-10","muertes":11},{"fecha":"2022-10-13","muertes":16},{"fecha":"2022-10-16","muertes":7},{"fecha":"2022-10-19","muertes":22},{"fecha":"2022-10-22","muertes":9},{"fecha":"2022-10-25","muertes":18},{"fecha":"2022-10-28","muertes":14},
{"fecha":"2022-11-01","muertes":14},{"fecha":"2022-11-04","muertes":26},{"fecha":"2022-11-07","muertes":29},{"fecha":"2022-11-10","muertes":9},{"fecha":"2022-11-13","muertes":18},{"fecha":"2022-11-16","muertes":6},{"fecha":"2022-11-19","muertes":33},{"fecha":"2022-11-22","muertes":11},{"fecha":"2022-11-25","muertes":16},{"fecha":"2022-11-28","muertes":5},
{"fecha":"2022-12-01","muertes":12},{"fecha":"2022-12-04","muertes":21},{"fecha":"2022-12-07","muertes":34},{"fecha":"2022-12-10","muertes":16},{"fecha":"2022-12-13","muertes":9},{"fecha":"2022-12-16","muertes":4},{"fecha":"2022-12-19","muertes":26},{"fecha":"2022-12-22","muertes":13},{"fecha":"2022-12-25","muertes":20},{"fecha":"2022-12-28","muertes":17},{"fecha":"2022-12-31","muertes":17}
]},
"mark": {"type": "line", "color": "#4C72B0", "strokeWidth": 2.6, "point": {"filled": true, "size": 58, "color": "#4C72B0", "opacity": 1}},
"encoding": {
  "x": {"field": "fecha", "type": "temporal", "title": "Fecha",
    "scale": {"type": "utc", "domain": [{"year": 2014, "month": 8, "date": 8, "utc": true}, {"year": 2023, "month": 5, "date": 4, "utc": true}], "nice": false},
    "axis": {"values": [{"year": 2015, "utc": true}, {"year": 2016, "utc": true}, {"year": 2017, "utc": true}, {"year": 2018, "utc": true}, {"year": 2019, "utc": true}, {"year": 2020, "utc": true}, {"year": 2021, "utc": true}, {"year": 2022, "utc": true}, {"year": 2023, "utc": true}],
      "format": "%Y", "labelAngle": -30, "labelAlign": "center", "labelBaseline": "middle", "labelPadding": 37, "titlePadding": 10, "labelOverlap": false}},
  "y": {"field": "muertes", "type": "quantitative", "title": "Muertes Violentas",
    "scale": {"domain": [-6.45, 135.45], "nice": false, "zero": false},
    "axis": {"values": [0, 20, 40, 60, 80, 100, 120], "labelPadding": 14, "titlePadding": 12}}
}
}
